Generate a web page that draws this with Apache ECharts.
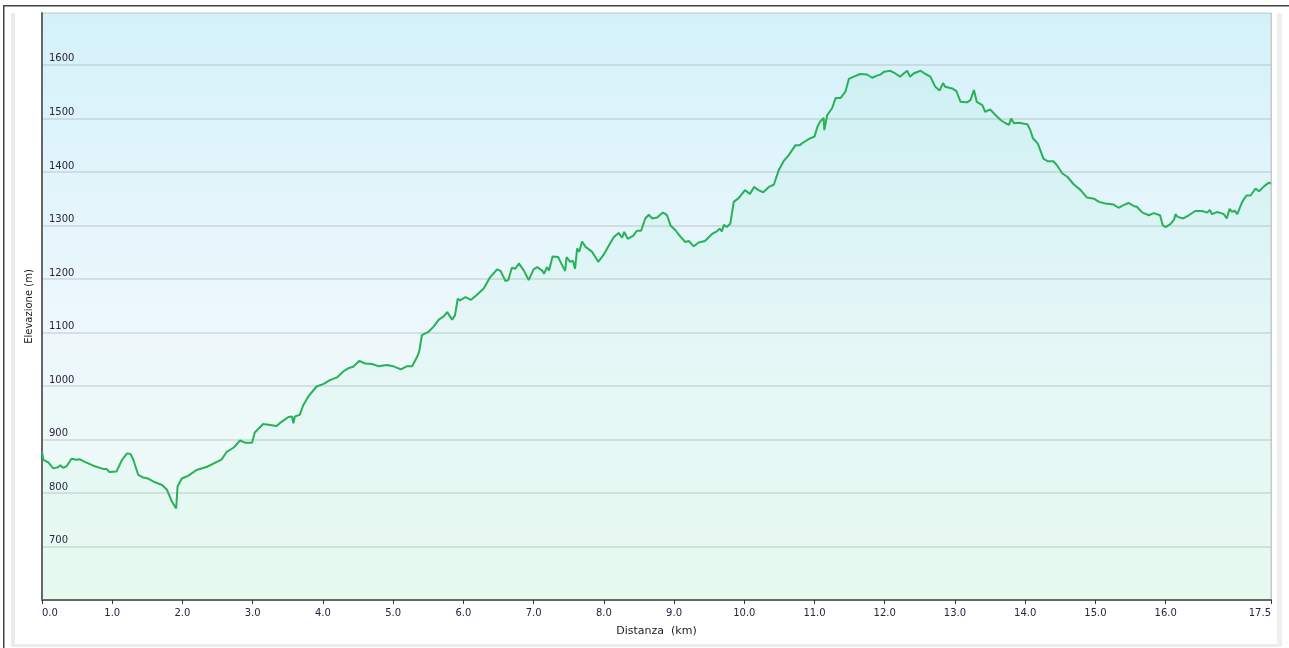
<!DOCTYPE html>
<html>
<head>
<meta charset="utf-8">
<title>Profilo altimetrico</title>
<script src="https://cdn.jsdelivr.net/npm/echarts@6/dist/echarts.min.js"></script>
<style>
  html, body { margin: 0; padding: 0; background: #fff; }
  #chart { width: 1289px; height: 648px; }
</style>
</head>
<body>
<div id="chart"></div>
<script>
const distanceKm = [
  0.00, 0.02, 0.09, 0.16, 0.23, 0.26, 0.30, 0.35, 0.42, 0.49, 0.54, 0.61, 0.73, 0.87, 0.92, 0.96,
  1.06, 1.14, 1.21, 1.26, 1.30, 1.37, 1.44, 1.51, 1.61, 1.71, 1.78, 1.85, 1.91, 1.93, 1.99,
  2.08, 2.20, 2.35, 2.49, 2.56, 2.63, 2.73, 2.82, 2.89, 2.99,
  3.03, 3.15, 3.25, 3.34, 3.41, 3.51, 3.56, 3.58, 3.60, 3.67, 3.72, 3.79, 3.91,
  4.01, 4.10, 4.20, 4.29, 4.36, 4.43, 4.52, 4.60, 4.70, 4.79, 4.91,
  5.00, 5.11, 5.20, 5.27, 5.34, 5.37, 5.41, 5.50, 5.57, 5.65, 5.72, 5.77, 5.84, 5.88, 5.92, 5.95,
  6.03, 6.11, 6.19, 6.29, 6.38, 6.48, 6.53, 6.60, 6.64, 6.69, 6.74, 6.79, 6.86, 6.93,
  7.00, 7.05, 7.12, 7.15, 7.19, 7.22, 7.27, 7.35, 7.39, 7.45, 7.47, 7.52, 7.56, 7.59, 7.62, 7.65,
  7.69, 7.74, 7.83, 7.88, 7.92, 7.99,
  8.07, 8.14, 8.21, 8.26, 8.29, 8.34, 8.42, 8.47, 8.53, 8.59, 8.64, 8.69, 8.76, 8.84, 8.87, 8.90, 8.95,
  9.02, 9.09, 9.16, 9.21, 9.28, 9.35, 9.44, 9.54, 9.61, 9.65, 9.68, 9.71, 9.75, 9.80, 9.85, 9.92,
  10.01, 10.08, 10.14, 10.20, 10.27, 10.35, 10.42, 10.49, 10.56, 10.63, 10.73, 10.79, 10.84, 10.94,
  11.00, 11.04, 11.08, 11.13, 11.14, 11.18, 11.25, 11.30, 11.37, 11.44, 11.49, 11.56, 11.65, 11.75,
  11.82, 11.89, 11.94, 11.99,
  12.08, 12.15, 12.22, 12.27, 12.32, 12.36, 12.41, 12.51, 12.58, 12.65, 12.72, 12.78, 12.83, 12.86, 12.96,
  13.02, 13.08, 13.17, 13.22, 13.27, 13.31, 13.39, 13.43, 13.50, 13.58, 13.65, 13.72, 13.77, 13.80, 13.84, 13.91,
  14.03, 14.07, 14.11, 14.18, 14.26, 14.32, 14.40, 14.45, 14.53, 14.60, 14.69, 14.79, 14.88, 14.98,
  15.05, 15.14, 15.26, 15.33, 15.40, 15.47, 15.55, 15.59, 15.67, 15.76, 15.83, 15.92, 15.96,
  16.00, 16.07, 16.12, 16.14, 16.17, 16.25, 16.33, 16.42, 16.52, 16.59, 16.63, 16.66, 16.73, 16.79,
  16.83, 16.87, 16.91, 16.95, 16.98,
  17.02, 17.09, 17.15, 17.21, 17.28, 17.33, 17.40, 17.47, 17.50
];
const elevationM = [
  877, 862, 857, 846, 848, 852, 847, 850, 864, 862, 863, 858, 851, 845, 845, 839,
  840, 862, 874, 873, 862, 834, 829, 827, 820, 815, 806, 784, 771, 812, 827,
  832, 843, 849, 858, 863, 877, 885, 898, 894, 894,
  913, 929, 927, 925, 933, 942, 943, 930, 943, 946, 964, 980, 999,
  1004, 1011, 1016, 1027, 1033, 1036, 1047, 1042, 1041, 1037, 1039,
  1037, 1031, 1037, 1037, 1054, 1064, 1095, 1101, 1110, 1124, 1130, 1138, 1124, 1132, 1163, 1160,
  1166, 1161, 1170, 1182, 1203, 1218, 1215, 1196, 1198, 1221, 1219, 1229, 1216, 1198,
  1218, 1222, 1216, 1210, 1222, 1216, 1242, 1241, 1230, 1215, 1241, 1232, 1234, 1219, 1257, 1251,
  1270, 1260, 1251, 1241, 1232, 1244,
  1262, 1278, 1286, 1277, 1288, 1275, 1281, 1290, 1290, 1313, 1320, 1313, 1315, 1324, 1322, 1319, 1300,
  1291, 1279, 1269, 1271, 1261, 1268, 1271, 1284, 1289, 1294, 1289, 1301, 1297, 1303, 1344, 1351,
  1366, 1359, 1372, 1366, 1362, 1372, 1376, 1403, 1420, 1431, 1450, 1450, 1455, 1463,
  1466, 1484, 1494, 1501, 1478, 1506, 1519, 1538, 1538, 1550, 1574, 1578, 1583, 1582,
  1576, 1580, 1582, 1587,
  1589, 1584, 1578, 1584, 1589, 1578, 1584, 1589, 1583, 1578, 1559, 1552, 1566, 1559, 1556,
  1551, 1531, 1530, 1534, 1553, 1531, 1525, 1512, 1517, 1506, 1497, 1491, 1488, 1500, 1491, 1492,
  1489, 1479, 1463, 1453, 1425, 1420, 1420, 1413, 1397, 1391, 1377, 1366, 1352, 1350,
  1344, 1341, 1339, 1333, 1338, 1342, 1336, 1335, 1324, 1319, 1323, 1319, 1300,
  1297, 1303, 1311, 1321, 1316, 1313, 1319, 1327, 1327, 1324, 1329, 1321, 1325, 1323,
  1321, 1313, 1331, 1325, 1328,
  1321, 1344, 1356, 1356, 1369, 1364, 1373, 1380, 1378
];
// etichette dell'asse x (manca 17.0, c'e' solo la fine percorso)
const xTickValues = [0, 1, 2, 3, 4, 5, 6, 7, 8, 9, 10, 11, 12, 13, 14, 15, 16, 17.5];
const yMin = 600;
const yMax = 1697;
const yStep = 100;

const FONT = "DejaVu Sans";
const LABEL_COLOR = "#2c2240";

const chart = echarts.init(document.getElementById("chart"), null, { renderer: "canvas" });

chart.setOption({
  animation: false,
  backgroundColor: "#fff",
  grid: {
    left: 42,
    right: 18,
    top: 13,
    bottom: 48,
    show: true,
    borderWidth: 0,
    backgroundColor: {
      type: "linear", x: 0, y: 0, x2: 0, y2: 1,
      colorStops: [
        { offset: 0, color: "#d4f1fa" },
        { offset: 0.55, color: "#eef8fc" },
        { offset: 1, color: "#edfbf3" },
      ],
    },
  },
  graphic: [
    // cornice esterna
    { type: "rect", silent: true, shape: { x: 3, y: 5, width: 1286, height: 1.5 }, style: { fill: "#444" } },
    { type: "rect", silent: true, shape: { x: 3, y: 5, width: 1.5, height: 643 }, style: { fill: "#444" } },
    { type: "rect", silent: true, shape: { x: 11, y: 13, width: 4, height: 634 }, style: { fill: "#ececec" } },
    { type: "rect", silent: true, shape: { x: 11, y: 644, width: 1271, height: 3 }, style: { fill: "#ececec" } },
    { type: "rect", silent: true, shape: { x: 1277, y: 13, width: 5, height: 634 }, style: { fill: "#efefef" } },
    { type: "rect", silent: true, shape: { x: 1270.5, y: 13, width: 1.5, height: 587 }, style: { fill: "#c9c9c9" } },
  ],
  xAxis: {
    type: "value",
    min: 0,
    max: 17.5,
    name: "Distanza  (km)",
    nameLocation: "middle",
    nameGap: 26,
    nameTextStyle: { fontFamily: FONT, fontSize: 11, color: "#222" },
    axisLine: { show: true, onZero: false, lineStyle: { color: "#666", width: 2 } },
    axisTick: { show: true, length: 4, customValues: xTickValues, lineStyle: { color: "#333", width: 1 } },
    axisLabel: {
      customValues: xTickValues,
      margin: 8,
      fontFamily: FONT,
      fontSize: 10,
      color: LABEL_COLOR,
      alignMinLabel: "left",
      alignMaxLabel: "right",
      formatter: (v) => v.toFixed(1),
    },
    splitLine: { show: false },
  },
  yAxis: {
    type: "value",
    min: yMin,
    max: yMax,
    interval: yStep,
    name: "Elevazione (m)",
    nameLocation: "middle",
    nameGap: -3,
    nameTextStyle: { fontFamily: FONT, fontSize: 10, color: "#222" },
    axisLine: { show: true, lineStyle: { color: "#666", width: 2 } },
    axisTick: { show: false },
    axisLabel: {
      inside: true,
      margin: 7,
      verticalAlign: "bottom",
      padding: [0, 0, 1, 0],
      fontFamily: FONT,
      fontSize: 10,
      color: LABEL_COLOR,
      showMinLabel: false,
      showMaxLabel: false,
      formatter: (v) => String(v),
    },
    splitLine: { show: true, lineStyle: { color: "rgba(150,160,165,0.28)", width: 2 } },
  },
  series: [
    {
      type: "line",
      data: distanceKm.map((d, i) => [d, elevationM[i]]),
      showSymbol: false,
      smooth: false,
      lineStyle: { color: "#27b257", width: 2 },
      areaStyle: {
        origin: "start",
        color: {
          type: "linear", x: 0, y: 0, x2: 0, y2: 1,
          colorStops: [
            { offset: 0, color: "rgba(70,215,150,0.10)" },
            { offset: 1, color: "rgba(70,215,150,0.05)" },
          ],
        },
      },
    },
  ],
});

window.addEventListener("resize", () => chart.resize());
</script>
</body>
</html>
